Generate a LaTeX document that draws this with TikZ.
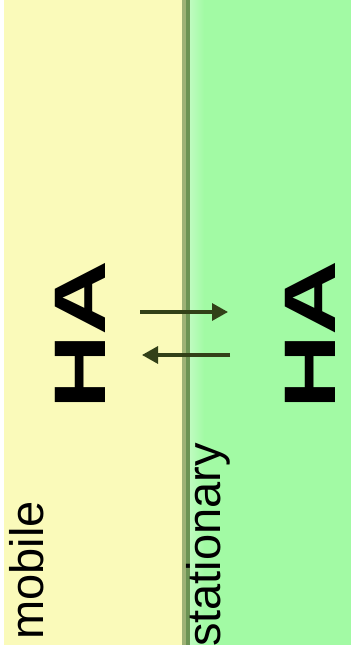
\documentclass[tikz,border=0pt]{standalone}
\usepackage{fontspec}
\setmainfont{Liberation Sans}
\usepackage{xcolor}
\usetikzlibrary{arrows.meta, positioning}
\definecolor{mobcol}{RGB}{250,250,186}
\definecolor{statcol}{RGB}{162,250,164}
\definecolor{edgelt}{RGB}{158,178,118}
\definecolor{edgedk}{RGB}{108,148,84}
\definecolor{arrcol}{RGB}{50,64,24}

\begin{document}
\begin{tikzpicture}[x=1pt, y=1pt,
    lbl/.style={rotate=90, anchor=base west, inner sep=0pt, font=\fontsize{47}{47}\selectfont},
    ha/.style={rotate=90, anchor=base, inner sep=0pt, font=\fontsize{73}{73}\selectfont\bfseries},
    arr/.style={-{Triangle[length=16pt, width=17pt]}, line width=3.2pt, arrcol}]
  \useasboundingbox (0,0) rectangle (351,658);
  % the two sides
  \fill[mobcol] (4,13) rectangle (184,658);
  \fill[left color=statcol!70!white, right color=statcol] (190,13) rectangle (204,658);
  \fill[statcol] (204,13) rectangle (351,658);
  \fill[edgelt] (182,13) rectangle (186,658);
  \fill[edgedk] (186,13) rectangle (190,658);
  \node[lbl] (mob) at (43,18) {mobile};
  \node[lbl] (stat) at (220,11) {stationary};
  \node[ha] (ha1) at (105,323) {\scalebox{1.42}[1]{HA}};
  \node[ha] (ha2) at (335,323) {\scalebox{1.42}[1]{HA}};
  \coordinate (p1) at (140,346);
  \coordinate (p2) at (228,346);
  \coordinate (q1) at (230,303);
  \coordinate (q2) at (142,303);
  \draw[arr] (p1) -- (p2);
  \draw[arr] (q1) -- (q2);
\end{tikzpicture}
\end{document}
